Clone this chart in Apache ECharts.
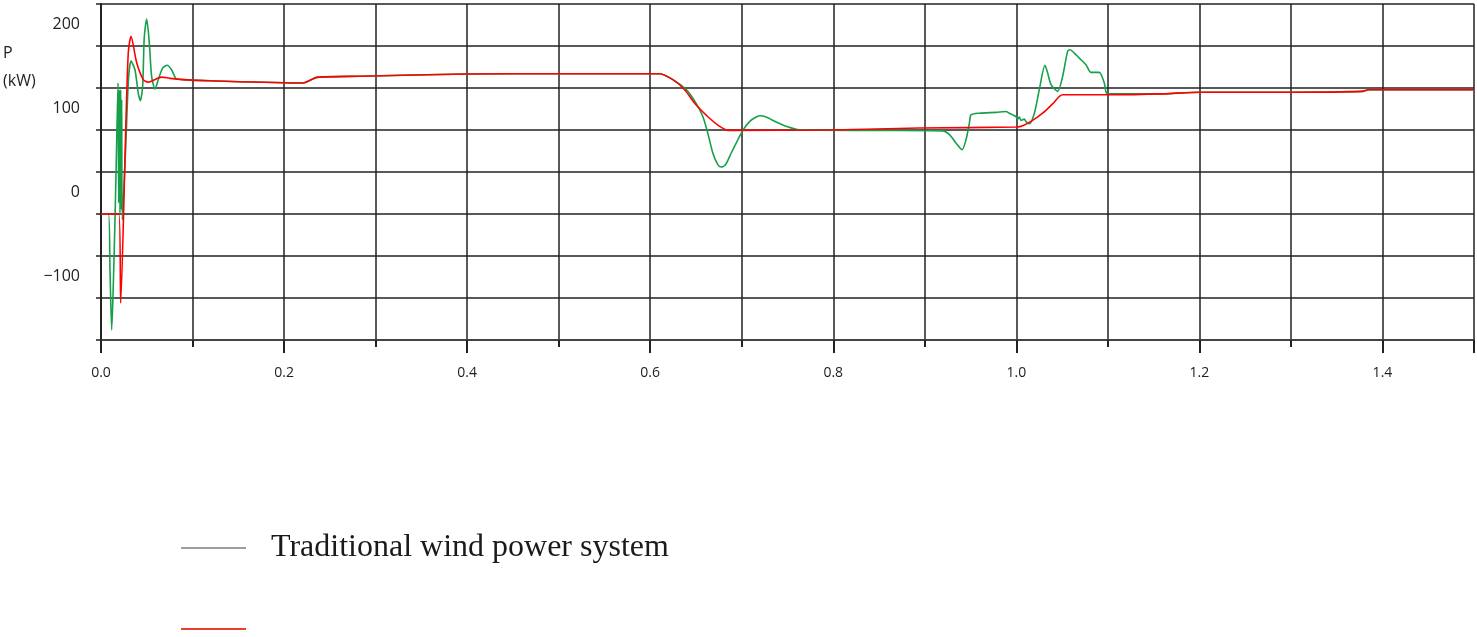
<!DOCTYPE html>
<html><head><meta charset="utf-8">
<script src="https://cdn.jsdelivr.net/npm/echarts@6/dist/echarts.min.js"></script>
<style>html,body{margin:0;padding:0;background:#fff}#c{width:1477px;height:637px}</style>
</head><body><div id="c"></div><script>
// Time (s) and power (kW)
const redTime = [0, 0.0195, 0.0215, 0.027, 0.0298, 0.0328, 0.039, 0.0462, 0.0516, 0.0608, 0.0663, 0.0753, 0.0895, 0.119, 0.2209, 0.236, 0.283, 0.4, 0.5, 0.61, 0.6248, 0.6376, 0.650, 0.6648, 0.6758, 0.6849, 0.8, 0.894, 1.001, 1.0069, 1.0178, 1.0287, 1.0396, 1.0505, 1.1, 1.16, 1.2, 1.3, 1.378, 1.385, 1.5];
const redPower = [0, 0, -106, 100, 192, 211.5, 180, 160, 157, 161, 163, 161.5, 160, 158.6, 156, 162.7, 164, 166.6, 167, 167, 160, 148, 130, 114, 104.4, 99.6, 100, 102.3, 103.5, 105, 111.5, 120, 131, 142, 142, 143, 145, 145, 146, 148, 148];

const greenTime = [0, 0.008, 0.0098, 0.0117, 0.0134, 0.0153, 0.0171, 0.0186, 0.0193, 0.0200, 0.0207, 0.0215, 0.0222, 0.0226, 0.0233, 0.027, 0.030, 0.0328, 0.0371, 0.0407, 0.043, 0.0455, 0.0473, 0.0499, 0.0528, 0.0553, 0.059, 0.0626, 0.0673, 0.0724, 0.0771, 0.0826, 0.0895, 0.119, 0.2209, 0.236, 0.283, 0.4, 0.5, 0.61, 0.6248, 0.6394, 0.650, 0.6575, 0.663, 0.6684, 0.6739, 0.6776, 0.6823, 0.6885, 0.6958, 0.7012, 0.7085, 0.7158, 0.7205, 0.7267, 0.7376, 0.7486, 0.763, 0.85, 0.9196, 0.9269, 0.9341, 0.9407, 0.945, 0.9487, 0.9505, 0.9596, 0.9778, 0.9887, 0.9923, 0.996, 0.9996, 1.0015, 1.0033, 1.0051, 1.0087, 1.0106, 1.0142, 1.0197, 1.0251, 1.0313, 1.0342, 1.0379, 1.0451, 1.0506, 1.056, 1.0586, 1.0633, 1.0688, 1.0761, 1.0815, 1.0906, 1.0961, 1.0997, 1.16, 1.2, 1.3, 1.378, 1.385, 1.5];
const greenPower = [0, 0, -66, -138, -86, -7, 84.5, 156, 13, 148, 1, 148, 5, 136, -7, 80, 160, 182, 171.7, 144, 135, 152, 211, 232, 203.5, 164, 148.8, 160, 173.7, 177, 171.7, 160.6, 160, 158.6, 156, 162.7, 164, 166.6, 167, 167, 160, 148, 132, 116, 96, 72.6, 58.7, 56, 58.7, 72.6, 88.4, 99.6, 110, 115.4, 117, 115.4, 109.5, 104.4, 100.3, 99.5, 99, 94.4, 84.5, 76.5, 88.4, 108, 118, 120, 121, 122, 120, 118, 116, 113, 115.5, 111.5, 113, 110, 107.5, 120, 148, 177, 168, 154, 146, 164, 193.6, 195.6, 191.6, 185.6, 177.7, 168.6, 168.6, 156, 143, 143, 145, 145, 146, 148, 148];

const xTickLabels = ['0.0', '0.2', '0.4', '0.6', '0.8', '1.0', '1.2', '1.4'];
const yTickLabels = {'200': '200', '100': '100', '0': '0', '-100': '\u2212100'};

const seriesNames = ['Traditional wind power system', 'Proposed wind power system'];

const zip = (a, b) => a.map((t, i) => [t, b[i]]);

const chart = echarts.init(document.getElementById('c'), null, {renderer: 'canvas'});
const gridColor = '#222';
chart.setOption({
  animation: false,
  backgroundColor: '#fff',
  grid: {left: 101, right: 2, top: 4, bottom: 297, containLabel: false},
  xAxis: [{
    type: 'value', min: 0, max: 1.5, interval: 0.1,
    axisLine: {show: true, onZero: false, lineStyle: {color: '#444', width: 2}},
    axisTick: {show: true, length: 7, lineStyle: {color: gridColor, width: 2}},
    splitLine: {show: true, lineStyle: {color: gridColor, width: 1.5}},
    axisLabel: {show: false}
  }, {
    type: 'value', min: 0, max: 1.5, interval: 0.2, position: 'bottom',
    axisLine: {show: false, onZero: false},
    axisTick: {show: true, length: 13, lineStyle: {color: gridColor, width: 2}},
    splitLine: {show: false},
    axisLabel: {
      margin: 26, color: '#222', fontFamily: 'Open Sans', fontSize: 14,
      formatter: v => { const s = (Math.round(v * 10) / 10).toFixed(1); return xTickLabels.includes(s) ? s : ''; }
    }
  }],
  yAxis: {
    type: 'value', min: -150, max: 250, interval: 50,
    axisLine: {show: true, lineStyle: {color: gridColor, width: 2}},
    axisTick: {show: true, length: 5, lineStyle: {color: gridColor, width: 1.5}},
    splitLine: {show: true, lineStyle: {color: gridColor, width: 1.5}},
    axisLabel: {
      margin: 21, color: '#222', fontFamily: 'Open Sans', fontSize: 16,
      verticalAlign: 'bottom', lineHeight: 44,
      formatter: v => yTickLabels[String(Math.round(v))] || ''
    }
  },
  graphic: [
    {type: 'text', left: 3, top: 45, style: {text: 'P', fontFamily: 'Open Sans', fontSize: 16, fill: '#222'}},
    {type: 'text', left: 3, top: 73, style: {text: '(kW)', fontFamily: 'Open Sans', fontSize: 16, fill: '#222'}}
  ],
  legend: [
    {
      data: [{name: seriesNames[0], itemStyle: {color: '#9e9e9e'}}],
      left: 176, top: 527, orient: 'vertical', icon: 'rect', itemWidth: 65, itemHeight: 2,
      textStyle: {fontFamily: 'Liberation Serif', fontSize: 32, color: '#1a1a1a', padding: [6, 0, 0, 20]},
      selectedMode: false
    },
    {
      data: [{name: seriesNames[1], itemStyle: {color: '#e8412f'}}],
      left: 176, top: 623, orient: 'vertical', icon: 'rect', itemWidth: 65, itemHeight: 2,
      formatter: () => '', selectedMode: false
    }
  ],
  series: [
    {name: seriesNames[0], type: 'line', data: zip(greenTime, greenPower), showSymbol: false, smooth: 0.25,
     lineStyle: {color: '#15a04a', width: 1.6}, itemStyle: {color: '#15a04a'}, z: 2},
    {name: seriesNames[1], type: 'line', data: zip(redTime, redPower), showSymbol: false, smooth: 0.25,
     lineStyle: {color: '#ff0000', width: 1.6}, itemStyle: {color: '#ff0000'}, z: 3}
  ]
});
</script></body></html>
